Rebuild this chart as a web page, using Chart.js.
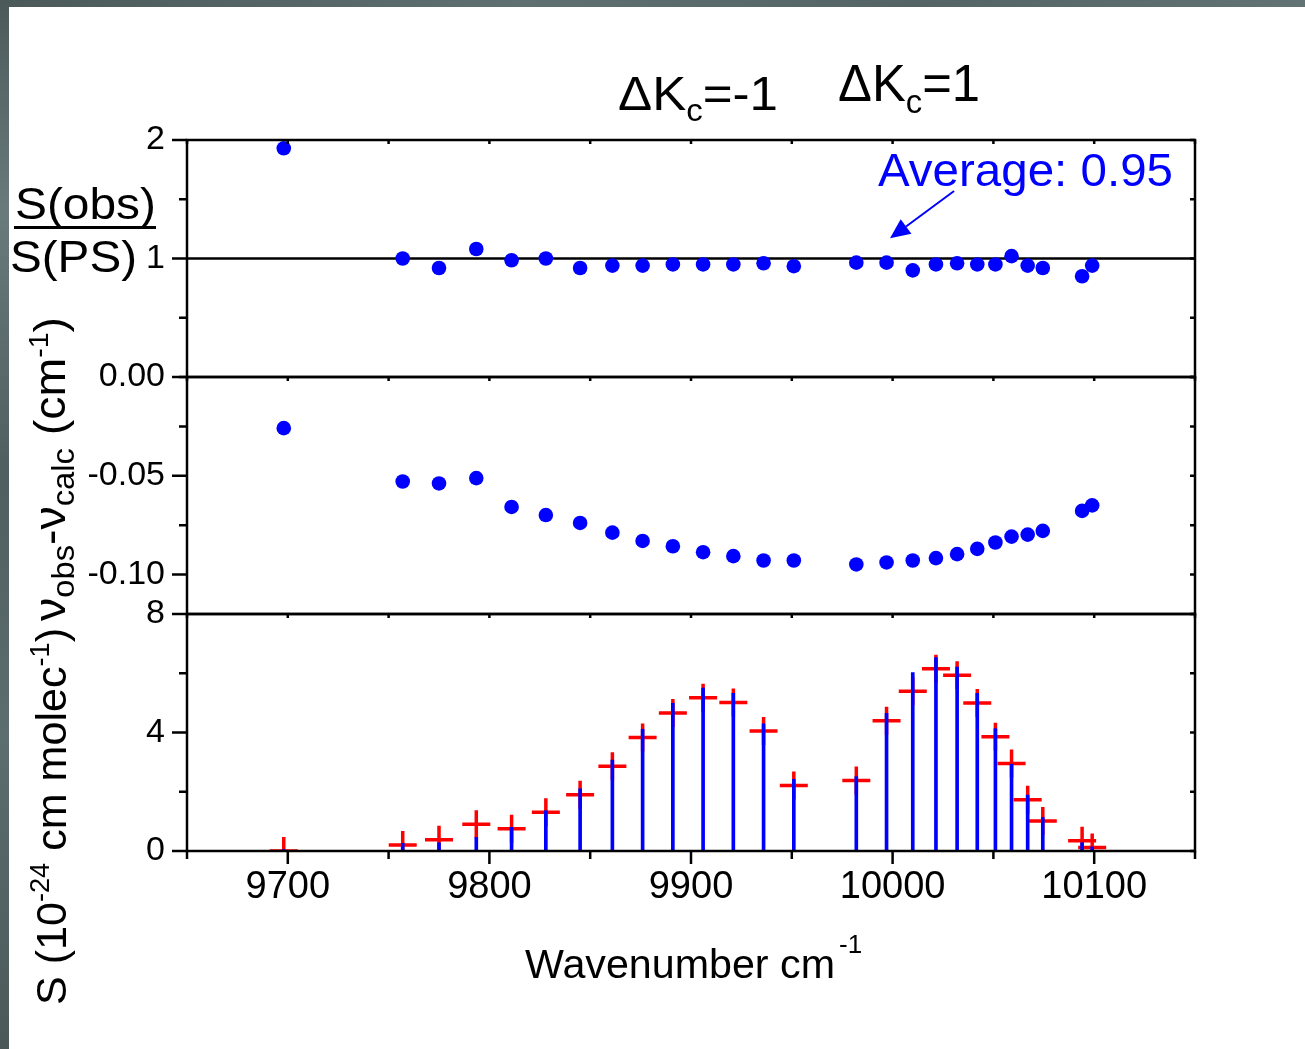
<!DOCTYPE html>
<html>
<head>
<meta charset="utf-8">
<script src="https://cdn.jsdelivr.net/npm/chart.js@4.4.1/dist/chart.umd.min.js"></script>
<style>
  html, body { margin: 0; padding: 0; background: #fff; }
  #wrap { position: relative; width: 1305px; height: 1049px; }
  .strip { position: absolute; background: linear-gradient(90deg, #4b5959, #5f7070 40%, #546464 70%, #627373); }
</style>
</head>
<body>
<div id="wrap">
  <canvas id="myChart" width="1305" height="1049"></canvas>
  <div class="strip" style="left:0;top:0;width:1305px;height:7px"></div>
  <div class="strip" style="left:0;top:0;width:9px;height:1049px;background:linear-gradient(180deg,#4b5959,#6a7b7b 20%,#4f5e5e 45%,#5d6e6e 70%,#4a5858)"></div>
</div>
<script>
const FONT = '"Liberation Sans", Arial, sans-serif';

// line positions (cm-1)
const wavenumbers = [9698, 9757, 9775, 9793.5, 9811, 9828, 9845, 9861, 9876, 9891, 9906, 9921, 9936,
  9951, 9982, 9997, 10010, 10021.5, 10032, 10042, 10051, 10059, 10067, 10074.5, 10094, 10099];

// S(obs)/S(PS)
const ratio = [1.93, 1.00, 0.92, 1.08, 0.985, 1.00, 0.92, 0.94, 0.94, 0.95, 0.95, 0.95, 0.96,
  0.935, 0.965, 0.965, 0.90, 0.95, 0.96, 0.95, 0.95, 1.02, 0.94, 0.92, 0.85, 0.94];

// nu(obs) - nu(calc)
const residual = [-0.0259, -0.0529, -0.0539, -0.0512, -0.0658, -0.0699, -0.0739, -0.0788, -0.083,
  -0.0857, -0.0887, -0.0907, -0.0929, -0.0929, -0.0949, -0.0939, -0.0929, -0.0917, -0.0897,
  -0.087, -0.0838, -0.0808, -0.0798, -0.0779, -0.0678, -0.065];

// line intensities, 1e-24 cm/molec
const sObs = [0.05, 0.26, 0.28, 0.46, 0.8, 1.36, 2.1, 3.07, 4.11, 4.99, 5.5, 5.32, 4.29,
  2.42, 2.51, 4.65, 6.02, 6.53, 6.21, 5.32, 4.13, 2.93, 1.89, 1.13, 0.28, 0.14];
const sCalc = [0.0, 0.2, 0.38, 0.9, 0.75, 1.31, 1.9, 2.86, 3.83, 4.66, 5.17, 5.01, 4.05,
  2.21, 2.38, 4.4, 5.39, 6.15, 5.93, 5.0, 3.86, 2.95, 1.73, 1.01, 0.35, 0.12];

// tick values per panel
const ratioTicks = [0, 0.5, 1, 1.5, 2];
const ratioLabels = ['', '', '1', '', '2'];
const residualTicks = [-0.1, -0.075, -0.05, -0.025, 0];
const residualLabels = ['-0.10', '', '-0.05', '', '0.00'];
const intensityTicks = [0, 2, 4, 6, 8];
const intensityLabels = ['0', '', '4', '', '8'];

const xRange = [9650, 10150];
const refLine = [1, 1];
// "Average" arrow: [x, y] in top panel units
const arrowFrom = [10030.5, 1.57];
const arrowTo = [9998.7, 1.17];

const pts = (ys) => wavenumbers.map((x, i) => ({ x: x, y: ys[i] }));

function rich(ctx, x, y, parts, opts) {
  opts = opts || {};
  ctx.save();
  ctx.translate(x, y);
  if (opts.rotate) ctx.rotate(-Math.PI / 2);
  let total = 0;
  parts.forEach(p => { ctx.font = p[1] + 'px ' + FONT; total += ctx.measureText(p[0]).width; });
  const sx = opts.width ? opts.width / total : (opts.sx || 1);
  ctx.scale(sx, 1);
  ctx.fillStyle = opts.color || '#000';
  ctx.textBaseline = 'alphabetic';
  let cx = 0;
  parts.forEach(p => {
    ctx.font = p[1] + 'px ' + FONT;
    ctx.fillText(p[0], cx, p[2] || 0);
    cx += ctx.measureText(p[0]).width;
  });
  ctx.restore();
  return total * sx;
}

const onStep = (v, step) => Math.abs(v / step - Math.round(v / step)) < 1e-6;

const framePlugin = {
  id: 'frame',
  afterDatasetsDraw(chart) {
    const ctx = chart.ctx, a = chart.chartArea, xs = chart.scales.x;
    ctx.save();
    ctx.strokeStyle = '#000';
    ctx.lineWidth = 2.5;
    ['yR', 'yD', 'yS'].forEach(id => {
      const s = chart.scales[id];
      ctx.strokeRect(a.left, s.top, a.right - a.left, s.bottom - s.top);
      ctx.beginPath();
      s.ticks.forEach(t => {
        const py = s.getPixelForValue(t.value);
        const len = t.label !== '' ? 15 : 8;
        ctx.moveTo(a.left - len, py); ctx.lineTo(a.left, py);
        ctx.moveTo(a.right, py); ctx.lineTo(a.right - 5, py);
      });
      xs.ticks.forEach(t => {
        const px = xs.getPixelForValue(t.value);
        ctx.moveTo(px, s.top); ctx.lineTo(px, s.top + 4);
      });
      ctx.stroke();
    });
    ctx.beginPath();
    xs.ticks.forEach(t => {
      const px = xs.getPixelForValue(t.value);
      const len = onStep(t.value, 100) ? 13 : 8;
      ctx.moveTo(px, a.bottom); ctx.lineTo(px, a.bottom + len);
    });
    ctx.stroke();

    // arrow to the ratio line
    const yr = chart.scales.yR;
    const x1 = xs.getPixelForValue(arrowFrom[0]), y1 = yr.getPixelForValue(arrowFrom[1]);
    const x2 = xs.getPixelForValue(arrowTo[0]), y2 = yr.getPixelForValue(arrowTo[1]);
    const ang = Math.atan2(y2 - y1, x2 - x1), hl = 20, hw = 9;
    const bx = x2 - hl * Math.cos(ang), by = y2 - hl * Math.sin(ang);
    ctx.strokeStyle = '#0000ff'; ctx.fillStyle = '#0000ff'; ctx.lineWidth = 2;
    ctx.beginPath(); ctx.moveTo(x1, y1); ctx.lineTo(bx, by); ctx.stroke();
    ctx.beginPath();
    ctx.moveTo(x2, y2);
    ctx.lineTo(bx + hw * Math.sin(ang), by - hw * Math.cos(ang));
    ctx.lineTo(bx - hw * Math.sin(ang), by + hw * Math.cos(ang));
    ctx.closePath(); ctx.fill();
    ctx.restore();
  },
  afterDraw(chart) {
    const ctx = chart.ctx;
    rich(ctx, 878, 186, [['Average: 0.95', 47]], { color: '#0000ff', width: 295 });
    rich(ctx, 618, 110, [['\u0394K', 48], ['c', 31, 11], ['=-1', 48]], { width: 160 });
    rich(ctx, 838, 101, [['\u0394K', 51], ['c', 33, 12], ['=1', 51]], { width: 142 });

    // S(obs) / S(PS)
    rich(ctx, 15, 219, [['S(obs)', 44]], { width: 141 });
    ctx.save();
    ctx.fillStyle = '#000';
    ctx.fillRect(14, 226, 142, 3);
    ctx.restore();
    rich(ctx, 10, 272, [['S(PS)', 44]], { width: 127 });

    rich(ctx, 65, 621, [['\u03bd', 44], ['obs', 31, 9], ['-\u03bd', 44], ['calc', 31, 9],
      [' (cm', 44], ['-1', 27, -17], [')', 44]], { rotate: true, width: 304 });
    rich(ctx, 66, 1005, [['S (10', 43], ['-24', 27, -17], [' cm molec', 43], ['-1', 27, -17], [')', 43]],
      { rotate: true, width: 377 });

    rich(ctx, 525, 978, [['Wavenumber cm', 40]], { width: 310 });
    rich(ctx, 839, 953, [['-1', 26]], {});
  }
};

function fixedTicks(values, labels) {
  return {
    afterBuildTicks: s => { s.ticks = values.map(v => ({ value: v })); },
    ticks: {
      autoSkip: false, padding: 22, color: '#000', font: { size: 34, family: FONT },
      callback: (v, i) => labels[i]
    }
  };
}

const yCommon = {
  type: 'linear',
  position: 'left',
  stack: 'panels',
  stackWeight: 1,
  grid: { display: false, drawTicks: false },
  border: { display: false },
  afterFit: s => { s.width = 187; }
};

const config = {
  type: 'scatter',
  data: {
    datasets: [
      {
        type: 'bar',
        data: pts(sObs),
        yAxisID: 'yS',
        backgroundColor: '#0000ff',
        barThickness: 3
      },
      {
        data: pts(sCalc),
        yAxisID: 'yS',
        pointStyle: 'cross',
        pointRadius: 14,
        borderColor: '#ff0000',
        borderWidth: 3.5
      },
      {
        data: pts(residual),
        yAxisID: 'yD',
        pointRadius: 7.3,
        backgroundColor: '#0000ff',
        borderWidth: 0
      },
      {
        data: pts(ratio),
        yAxisID: 'yR',
        pointRadius: 7.3,
        backgroundColor: '#0000ff',
        borderWidth: 0
      },
      {
        type: 'line',
        data: xRange.map((x, i) => ({ x: x, y: refLine[i] })),
        yAxisID: 'yR',
        borderColor: '#000',
        borderWidth: 2.5,
        pointRadius: 0
      }
    ]
  },
  options: {
    responsive: false,
    animation: false,
    layout: { padding: { top: 140, right: 110, left: 0, bottom: 0 } },
    plugins: { legend: { display: false }, tooltip: { enabled: false } },
    scales: {
      x: {
        type: 'linear',
        min: xRange[0],
        max: xRange[1],
        offset: false,
        grid: { display: false, drawTicks: false, offset: false },
        border: { display: false },
        ticks: {
          stepSize: 50,
          autoSkip: false,
          maxRotation: 0,
          padding: 14,
          color: '#000',
          font: { size: 38, family: FONT },
          callback: v => (onStep(v, 100) ? String(v) : '')
        },
        afterFit: s => { s.height = 198; }
      },
      yS: Object.assign({}, yCommon, { min: 0, max: 8 }, fixedTicks(intensityTicks, intensityLabels)),
      yD: Object.assign({}, yCommon, { min: -0.12, max: 0 }, fixedTicks(residualTicks, residualLabels)),
      yR: Object.assign({}, yCommon, { min: 0, max: 2 }, fixedTicks(ratioTicks, ratioLabels))
    }
  },
  plugins: [framePlugin]
};

const myChart = new Chart(document.getElementById('myChart'), config);
</script>
</body>
</html>
